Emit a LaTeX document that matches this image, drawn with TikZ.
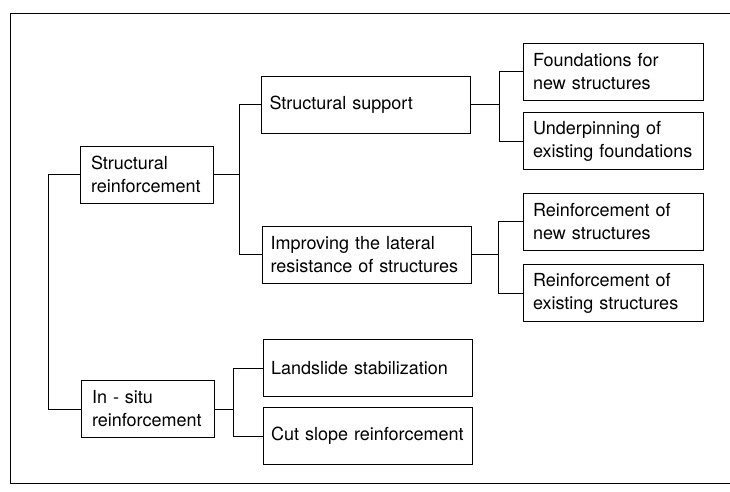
\documentclass[tikz,border=0pt]{standalone}
\usepackage{fontspec}
\setmainfont{TeX Gyre Heros}
\begin{document}
\begin{tikzpicture}[
    x=1pt, y=-1pt,
    box/.style={rectangle, draw, line width=0.9pt, minimum height=57pt, align=left, font=\fontsize{18}{23}\selectfont},
    rootbox/.style={box, minimum width=133pt, inner xsep=11pt, text width=111pt},
    midbox/.style={box, minimum width=209pt, inner xsep=8pt, text width=193pt},
    leafbox/.style={box, minimum width=180pt, inner xsep=10pt, text width=160pt},
    link/.style={draw, line width=0.9pt}
]
    \useasboundingbox (0,0) rectangle (730,492);
    \begin{scope}
        \clip (0,0) rectangle (730,492);
        \draw[line width=0.9pt] (10,13) rectangle (745,483);
    \end{scope}

    \node[rootbox] (sr) at (146.5,174.5) {Structural\\reinforcement};
    \node[rootbox] (is) at (147.5,409) {In - situ\\reinforcement};

    \node[midbox] (ss) at (366,104.5) {Structural support};
    \node[midbox] (il) at (367,254.5) {Improving the lateral\\resistance of structures};
    \node[midbox] (ls) at (367.5,368) {Landslide stabilization};
    \node[midbox] (cs) at (367.5,436) {Cut slope reinforcement};

    \node[leafbox] (fn) at (613,71.5) {Foundations for\\new structures};
    \node[leafbox] (ue) at (613,141) {Underpinning of\\existing foundations};
    \node[leafbox] (rn) at (613,221.5) {Reinforcement of\\new structures};
    \node[leafbox] (re) at (613,293) {Reinforcement of\\existing structures};

    \draw[link] (sr.west) -- ++(-31,0) |- (is.west);
    \draw[link] (sr.east) -- ++(26,0) |- (ss.west);
    \draw[link] (sr.east) -- ++(26,0) |- (il.west);
    \draw[link] (ss.east) -- ++(28,0) |- (fn.west);
    \draw[link] (ss.east) -- ++(28,0) |- (ue.west);
    \draw[link] (il.east) -- ++(26,0) |- (rn.west);
    \draw[link] (il.east) -- ++(26,0) |- (re.west);
    \draw[link] (is.east) -- ++(19,0) |- (ls.west);
    \draw[link] (is.east) -- ++(19,0) |- (cs.west);
\end{tikzpicture}
\end{document}
